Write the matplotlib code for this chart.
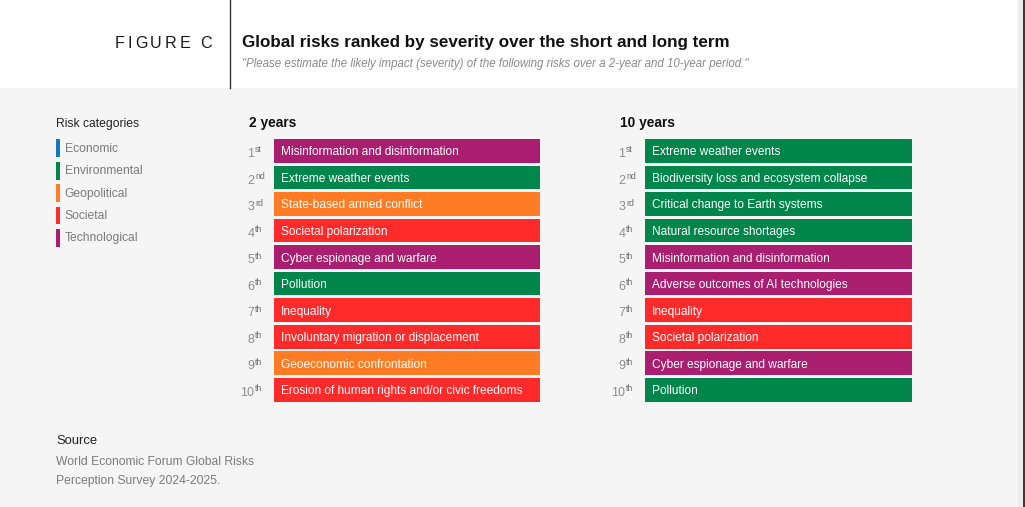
import matplotlib
matplotlib.use("Agg")
import matplotlib.pyplot as plt
from matplotlib.patches import Rectangle
from matplotlib import transforms

# ---------------- data ----------------
categories = ["Economic", "Environmental", "Geopolitical", "Societal", "Technological"]
category_colors = ["#1279c0", "#00854a", "#ff7c24", "#ff2b2b", "#a91e6e"]

ranks = [1, 2, 3, 4, 5, 6, 7, 8, 9, 10]
rank_suffix = ["st", "nd", "rd", "th", "th", "th", "th", "th", "th", "th"]

risks_2y = [
    "Misinformation and disinformation",
    "Extreme weather events",
    "State-based armed conflict",
    "Societal polarization",
    "Cyber espionage and warfare",
    "Pollution",
    "Inequality",
    "Involuntary migration or displacement",
    "Geoeconomic confrontation",
    "Erosion of human rights and/or civic freedoms",
]
cats_2y = ["Technological", "Environmental", "Geopolitical", "Societal", "Technological",
           "Environmental", "Societal", "Societal", "Geopolitical", "Societal"]

risks_10y = [
    "Extreme weather events",
    "Biodiversity loss and ecosystem collapse",
    "Critical change to Earth systems",
    "Natural resource shortages",
    "Misinformation and disinformation",
    "Adverse outcomes of AI technologies",
    "Inequality",
    "Societal polarization",
    "Cyber espionage and warfare",
    "Pollution",
]
cats_10y = ["Environmental", "Environmental", "Environmental", "Environmental", "Technological",
            "Technological", "Societal", "Societal", "Technological", "Environmental"]

panel_titles = ["2 years", "10 years"]
figure_label = "FIGURE C"
title = "Global risks ranked by severity over the short and long term"
subtitle = ("\"Please estimate the likely impact (severity) of the following risks "
            "over a 2-year and 10-year period.\"")
legend_title = "Risk categories"
source_title = "Source"
source_lines = ["World Economic Forum Global Risks", "Perception Survey 2024-2025."]

# ---------------- styling ----------------
W, H = 1025, 507
BG = "#f5f5f5"
FONT = ["Liberation Sans", "DejaVu Sans"]
plt.rcParams["font.family"] = FONT
color_of = dict(zip(categories, category_colors))

fig = plt.figure(figsize=(W / 100, H / 100), dpi=100)
fig.patch.set_facecolor(BG)

# background / layout axes in pixel coordinates
bg = fig.add_axes([0, 0, 1, 1])
bg.set_xlim(0, W)
bg.set_ylim(H, 0)
bg.axis("off")
bg.add_patch(Rectangle((0, 0), W, 88, facecolor="white", edgecolor="none", zorder=0))
bg.plot([229.5, 229.5], [0, 88], color="#333333", lw=1.0, zorder=1)
bg.add_patch(Rectangle((1018, 0), 5, H, facecolor="#ececec", edgecolor="none", zorder=0))
bg.add_patch(Rectangle((1023, 0), 2, H, facecolor="#3a3a3a", edgecolor="none", zorder=1))

# FIGURE C with letter spacing
fig.canvas.draw()
renderer = fig.canvas.get_renderer()
chars = []
for ch in figure_label:
    t = bg.text(0, 43, ch, fontsize=11.6, color="#1a1a1a", va="center", ha="left")
    chars.append(t)
widths = []
for t in chars:
    ext = t.get_window_extent(renderer=renderer)
    widths.append(ext.width)
tracking = 2.9
space_w = 4.5
advs = [(space_w if ch == " " else w) + tracking for ch, w in zip(figure_label, widths)]
total = sum(advs) - tracking
x = 212 - total
for t, a in zip(chars, advs):
    t.set_x(x)
    x += a

bg.text(242, 43, title, fontsize=12.25, fontweight="bold", color="#111111",
        va="center", ha="left")
bg.text(242, 64, subtitle, fontsize=8.3, style="italic", color="#8a8a8a",
        va="center", ha="left")

# legend
bg.text(56, 124, legend_title, fontsize=8.7, color="#222222", va="center", ha="left")
leg_y0, leg_pitch, leg_h = 148.3, 22.4, 17.8
for i, (cat, col) in enumerate(zip(categories, category_colors)):
    yc = leg_y0 + i * leg_pitch
    bg.add_patch(Rectangle((56, yc - leg_h / 2), 3.8, leg_h, facecolor=col, edgecolor="none"))
    bg.text(64.5, yc + 0.5, cat, fontsize=8.75, color="#7b7b7b", va="center", ha="left")

# source
bg.text(56, 441, source_title, fontsize=9.4, color="#222222", va="center", ha="left")
for i, line in enumerate(source_lines):
    bg.text(56, 462 + i * 19.3, line, fontsize=8.75, color="#7b7b7b", va="center", ha="left")

# ---------------- panels ----------------
row_top, row_bottom = 137.5, 403.1
panels = [
    (274, 266, risks_2y, cats_2y, 249),
    (645, 267, risks_10y, cats_10y, 620),
]
for (px, pw, risks, cats, tx), ptitle in zip(panels, panel_titles):
    ax = fig.add_axes([px / W, (H - row_bottom) / H, pw / W, (row_bottom - row_top) / H])
    ax.set_facecolor("none")
    ax.set_xlim(0, 1)
    ax.set_ylim(10.5, 0.5)
    ax.axis("off")
    colors = [color_of[c] for c in cats]
    ax.barh(ranks, [1] * len(ranks), height=0.89, color=colors, edgecolor="none")

    base = transforms.offset_copy(ax.transData, fig=fig, x=7 / 100 * 72, y=-4.5 / 100 * 72,
                                  units="points")
    for r, lab in zip(ranks, risks):
        ax.text(0, r, lab, transform=base, fontsize=8.55, color="white",
                va="baseline", ha="left")

    ytr = ax.get_yaxis_transform()
    num_x = -19.5 / pw
    num_tr = transforms.offset_copy(ytr, fig=fig, x=0, y=-6.2 / 100 * 72, units="points")
    sup_tr = transforms.offset_copy(ytr, fig=fig, x=0.5 / 100 * 72, y=-1.6 / 100 * 72,
                                    units="points")
    for r, suf in zip(ranks, rank_suffix):
        ax.text(num_x, r, str(r), transform=num_tr, fontsize=9.0, color="#8c8c8c",
                va="baseline", ha="right")
        ax.text(num_x, r, suf, transform=sup_tr, fontsize=6.3, color="#6e6e6e",
                va="baseline", ha="left")

    bg.text(tx, 123, ptitle, fontsize=9.9, fontweight="bold", color="#111111",
            va="center", ha="left")

fig.savefig("out.png", dpi=100, facecolor=BG)
